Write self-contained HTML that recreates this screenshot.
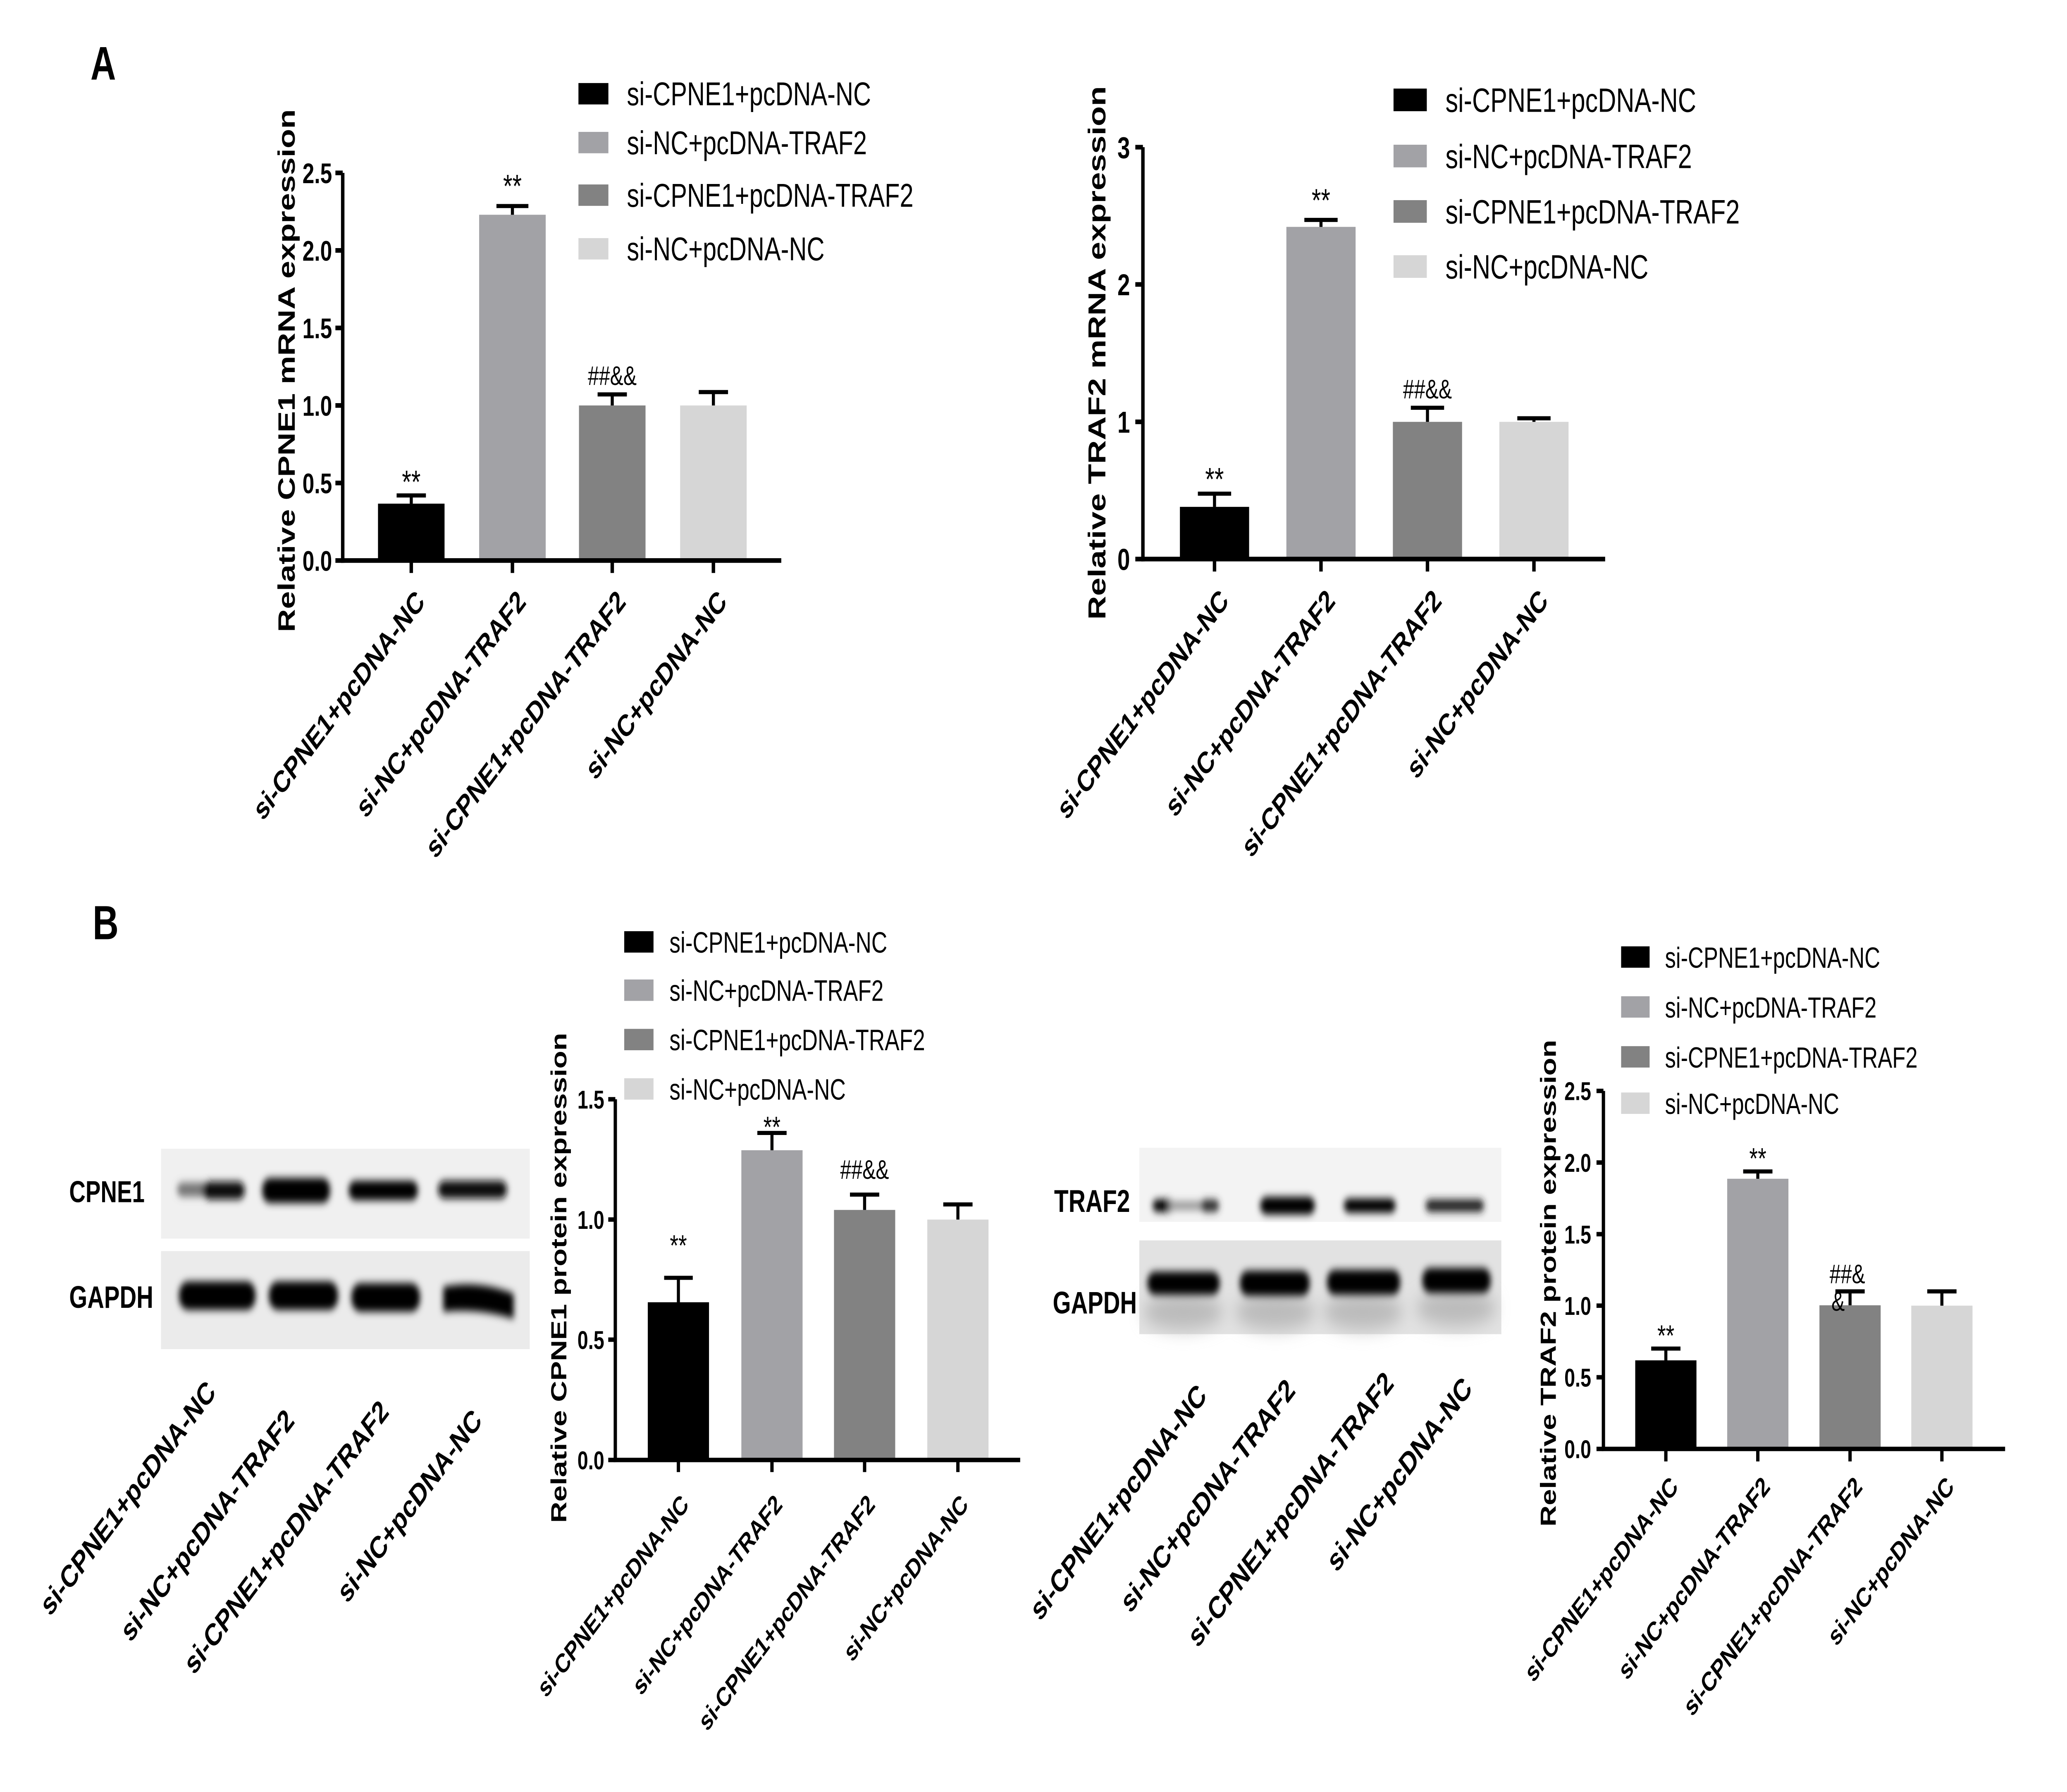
<!DOCTYPE html>
<html><head><meta charset="utf-8">
<style>
html,body{margin:0;padding:0;background:#fff;width:100%;height:100%;overflow:hidden;}
svg{display:block;position:absolute;left:0;top:0;width:100vw;height:100vh;}
text{font-family:"Liberation Sans",Arial,sans-serif;fill:#000;}
.b{font-weight:bold;}
</style></head>
<body>
<svg xmlns="http://www.w3.org/2000/svg" viewBox="0 0 1553 1005.5" preserveAspectRatio="none">
<defs>
<filter id="bl" x="-20%" y="-100%" width="140%" height="300%"><feGaussianBlur stdDeviation="2.2"/></filter>
<filter id="bl2" x="-20%" y="-100%" width="140%" height="300%"><feGaussianBlur stdDeviation="5"/></filter>
</defs>
<rect width="1553" height="1005.5" fill="#fff"/>

<text class="b" x="68" y="44.7" font-size="26.5">A</text>
<text class="b" x="69.6" y="527" font-size="27">B</text>

<!-- A LEFT -->
<g>
<rect x="434.6" y="46.6" width="22.5" height="12" fill="#000"/>
<rect x="434.6" y="74" width="22.5" height="12" fill="#a2a2a6"/>
<rect x="434.6" y="103.5" width="22.5" height="12" fill="#828282"/>
<rect x="434.6" y="133.6" width="22.5" height="12" fill="#d6d6d6"/>
<g font-size="18.5">
<text x="471" y="59">si-CPNE1+pcDNA-NC</text>
<text x="471" y="86.5">si-NC+pcDNA-TRAF2</text>
<text x="471" y="116">si-CPNE1+pcDNA-TRAF2</text>
<text x="471" y="146">si-NC+pcDNA-NC</text>
</g>
<rect x="284" y="282.6" width="50" height="31.9" fill="#000"/>
<rect x="360" y="120.5" width="50" height="194" fill="#a2a2a6"/>
<rect x="435" y="227.5" width="50" height="87" fill="#828282"/>
<rect x="511" y="227.5" width="50" height="87" fill="#d6d6d6"/>
<g stroke="#000" stroke-width="2.3" fill="none">
<path d="M309 282.6V278M298 278H320"/>
<path d="M385 120.5V115.6M373 115.6H397"/>
<path d="M460 227.5V221.3M449 221.3H471"/>
<path d="M536 227.5V220M525 220H547"/>
</g>
<g stroke="#000" stroke-width="2.6" fill="none">
<path d="M257.5 97V315.8"/>
<path d="M256.2 314.5H587"/>
<path d="M252 97H257.5M252 140.5H257.5M252 184H257.5M252 227.5H257.5M252 271H257.5M252 314.5H257.5"/>
<path d="M309 314.5V321.5M385 314.5V321.5M460 314.5V321.5M536 314.5V321.5"/>
</g>
<g class="b" font-size="16" text-anchor="end">
<text x="249.5" y="102.8">2.5</text>
<text x="249.5" y="146.3">2.0</text>
<text x="249.5" y="189.8">1.5</text>
<text x="249.5" y="233.3">1.0</text>
<text x="249.5" y="276.8">0.5</text>
<text x="249.5" y="320.3">0.0</text>
</g>
<text class="b" font-size="18" text-anchor="middle" transform="translate(221.5 208) rotate(-90)">Relative CPNE1 mRNA expression</text>
<g font-size="18" text-anchor="middle">
<text x="309" y="276.5">**</text>
<text x="385" y="110.5">**</text>
</g>
<text x="460" y="216" font-size="15" text-anchor="middle">##&amp;&amp;</text>
<g class="b" font-size="17" text-anchor="end">
<text transform="translate(320 338.5) rotate(-45)">si-CPNE1+pcDNA-NC</text>
<text transform="translate(396 338.5) rotate(-45)">si-NC+pcDNA-TRAF2</text>
<text transform="translate(471 338.5) rotate(-45)">si-CPNE1+pcDNA-TRAF2</text>
<text transform="translate(547 338.5) rotate(-45)">si-NC+pcDNA-NC</text>
</g>
</g>

<!-- A RIGHT -->
<g>
<rect x="1047" y="49.7" width="25" height="12.7" fill="#000"/>
<rect x="1047" y="81.2" width="25" height="12.7" fill="#a2a2a6"/>
<rect x="1047" y="112.3" width="25" height="12.7" fill="#828282"/>
<rect x="1047" y="143.2" width="25" height="12.7" fill="#d6d6d6"/>
<g font-size="19">
<text x="1086" y="62.8">si-CPNE1+pcDNA-NC</text>
<text x="1086" y="94.3">si-NC+pcDNA-TRAF2</text>
<text x="1086" y="125.4">si-CPNE1+pcDNA-TRAF2</text>
<text x="1086" y="156.3">si-NC+pcDNA-NC</text>
</g>
<rect x="886.5" y="284.4" width="52" height="29.3" fill="#000"/>
<rect x="966.5" y="127.3" width="52" height="186.4" fill="#a2a2a6"/>
<rect x="1046.5" y="236.7" width="52" height="77" fill="#828282"/>
<rect x="1126.5" y="236.7" width="52" height="77" fill="#d6d6d6"/>
<g stroke="#000" stroke-width="2.3" fill="none">
<path d="M912.5 284.4V277M900 277H925"/>
<path d="M992.5 127.3V123.4M980 123.4H1005"/>
<path d="M1072.5 236.7V228.8M1060 228.8H1085"/>
<path d="M1152.5 236.7V234.7M1140 234.7H1165"/>
</g>
<g stroke="#000" stroke-width="2.6" fill="none">
<path d="M858.7 82.6V315"/>
<path d="M857.4 313.7H1206"/>
<path d="M853 82.6H858.7M853 159.6H858.7M853 236.7H858.7M853 313.7H858.7"/>
<path d="M912.5 313.7V320.7M992.5 313.7V320.7M1072.5 313.7V320.7M1152.5 313.7V320.7"/>
</g>
<g class="b" font-size="17" text-anchor="end">
<text x="849" y="88.7">3</text>
<text x="849" y="165.7">2</text>
<text x="849" y="242.8">1</text>
<text x="849" y="319.8">0</text>
</g>
<text class="b" font-size="18.5" text-anchor="middle" transform="translate(830.5 198) rotate(-90)">Relative TRAF2 mRNA expression</text>
<g font-size="18" text-anchor="middle">
<text x="912.5" y="275">**</text>
<text x="992.5" y="118.5">**</text>
</g>
<text x="1072.5" y="223.5" font-size="15" text-anchor="middle">##&amp;&amp;</text>
<g class="b" font-size="17" text-anchor="end">
<text transform="translate(924 338) rotate(-45)">si-CPNE1+pcDNA-NC</text>
<text transform="translate(1004 338) rotate(-45)">si-NC+pcDNA-TRAF2</text>
<text transform="translate(1084 338) rotate(-45)">si-CPNE1+pcDNA-TRAF2</text>
<text transform="translate(1164 338) rotate(-45)">si-NC+pcDNA-NC</text>
</g>
</g>

<!-- B LEFT BLOT -->
<g>
<rect x="121" y="644.6" width="277" height="50.4" fill="#f0f0f0"/>
<rect x="121" y="702" width="277" height="55" fill="#ebebeb"/>
<g filter="url(#bl)">
<rect x="133" y="663.5" width="24" height="8" rx="4" fill="#777"/>
<rect x="152" y="663" width="32" height="10" rx="5" fill="#111"/>
<rect x="197" y="661" width="51" height="14" rx="6" fill="#000"/>
<rect x="262" y="662.5" width="52" height="11" rx="5" fill="#000"/>
<rect x="329" y="662.5" width="52" height="10" rx="5" fill="#111"/>
</g>
<g filter="url(#bl)">
<rect x="134.5" y="719" width="57.5" height="16" rx="7" fill="#000"/>
<rect x="202" y="719" width="52" height="16" rx="7" fill="#000"/>
<rect x="264" y="720" width="51.6" height="16" rx="7" fill="#000"/>
<path d="M333 722 Q360 718 386 726 L386 740 Q360 734 333 736 Z" fill="#000"/>
</g>
<text class="b" x="52" y="674.5" font-size="17">CPNE1</text>
<text class="b" x="52" y="733.8" font-size="17.5">GAPDH</text>
<g class="b" font-size="17.4" text-anchor="end">
<text transform="translate(163 782) rotate(-45)">si-CPNE1+pcDNA-NC</text>
<text transform="translate(222 798) rotate(-45)">si-NC+pcDNA-TRAF2</text>
<text transform="translate(293 793) rotate(-45)">si-CPNE1+pcDNA-TRAF2</text>
<text transform="translate(363 798) rotate(-45)">si-NC+pcDNA-NC</text>
</g>
</g>

<!-- B1 CHART -->
<g>
<rect x="469" y="522.5" width="22" height="12" fill="#000"/>
<rect x="469" y="549.6" width="22" height="12" fill="#a2a2a6"/>
<rect x="469" y="577.3" width="22" height="12" fill="#828282"/>
<rect x="469" y="605" width="22" height="12" fill="#d6d6d6"/>
<g font-size="16.5">
<text x="503" y="534.5">si-CPNE1+pcDNA-NC</text>
<text x="503" y="561.6">si-NC+pcDNA-TRAF2</text>
<text x="503" y="589.3">si-CPNE1+pcDNA-TRAF2</text>
<text x="503" y="617">si-NC+pcDNA-NC</text>
</g>
<rect x="486.7" y="730.7" width="46" height="88.5" fill="#000"/>
<rect x="557" y="645.4" width="46" height="173.8" fill="#a2a2a6"/>
<rect x="626.6" y="678.9" width="46" height="140.3" fill="#828282"/>
<rect x="696.7" y="684.3" width="46" height="134.9" fill="#d6d6d6"/>
<g stroke="#000" stroke-width="2.3" fill="none">
<path d="M509.7 730.7V717M499 717H520.5"/>
<path d="M580 645.4V635.7M569 635.7H591"/>
<path d="M649.6 678.9V670.3M638.6 670.3H660.6"/>
<path d="M719.7 684.3V675.8M708.7 675.8H730.7"/>
</g>
<g stroke="#000" stroke-width="2.5" fill="none">
<path d="M462.3 616.8V820.4"/>
<path d="M461 819.2H766.5"/>
<path d="M457 616.8H462.3M457 684.3H462.3M457 751.7H462.3M457 819.2H462.3"/>
<path d="M509.7 819.2V826M580 819.2V826M649.6 819.2V826M719.7 819.2V826"/>
</g>
<g class="b" font-size="14.5" text-anchor="end">
<text x="454" y="622">1.5</text>
<text x="454" y="689.5">1.0</text>
<text x="454" y="756.9">0.5</text>
<text x="454" y="824.4">0.0</text>
</g>
<text class="b" font-size="16.5" text-anchor="middle" transform="translate(425.5 717) rotate(-90)">Relative CPNE1 protein expression</text>
<g font-size="16.5" text-anchor="middle">
<text x="509.7" y="704.5">**</text>
<text x="580" y="638">**</text>
</g>
<text x="649.6" y="661.5" font-size="15" text-anchor="middle">##&amp;&amp;</text>
<g class="b" font-size="15" text-anchor="end">
<text transform="translate(518.3 845) rotate(-45)">si-CPNE1+pcDNA-NC</text>
<text transform="translate(588.6 845) rotate(-45)">si-NC+pcDNA-TRAF2</text>
<text transform="translate(658.2 845) rotate(-45)">si-CPNE1+pcDNA-TRAF2</text>
<text transform="translate(728.3 845) rotate(-45)">si-NC+pcDNA-NC</text>
</g>
</g>

<!-- B RIGHT BLOT -->
<g>
<rect x="856" y="644" width="272" height="41.6" fill="#f3f3f3"/>
<rect x="856" y="696" width="272" height="52.6" fill="#e2e2e2"/>
<g filter="url(#bl2)">
<ellipse cx="889" cy="736" rx="30" ry="10" fill="#bbb"/>
<ellipse cx="958" cy="736" rx="30" ry="10" fill="#bbb"/>
<ellipse cx="1024" cy="736" rx="30" ry="10" fill="#bbb"/>
<ellipse cx="1094" cy="734" rx="30" ry="10" fill="#bbb"/>
</g>
<g filter="url(#bl)">
<rect x="866" y="673" width="16" height="7" rx="3.5" fill="#000"/>
<rect x="878" y="674" width="28" height="5" rx="2.5" fill="#999"/>
<rect x="902" y="673" width="14" height="7" rx="3.5" fill="#333"/>
<rect x="946.7" y="671.5" width="41.3" height="10" rx="5" fill="#000"/>
<rect x="1009.6" y="672.5" width="39" height="8" rx="4" fill="#000"/>
<rect x="1071" y="673" width="44" height="7" rx="3.5" fill="#222"/>
</g>
<g filter="url(#bl)">
<rect x="862" y="713.5" width="54.5" height="13" rx="6" fill="#000"/>
<rect x="931.6" y="713" width="52.4" height="14" rx="6" fill="#000"/>
<rect x="997" y="712.5" width="55" height="14" rx="6" fill="#000"/>
<rect x="1068.6" y="711.5" width="51.4" height="14" rx="6" fill="#000"/>
</g>
<text class="b" x="792" y="680" font-size="17.7">TRAF2</text>
<text class="b" x="791" y="737" font-size="17.5">GAPDH</text>
<g class="b" font-size="17.5" text-anchor="end">
<text transform="translate(907.5 784) rotate(-45)">si-CPNE1+pcDNA-NC</text>
<text transform="translate(974 781) rotate(-45)">si-NC+pcDNA-TRAF2</text>
<text transform="translate(1048 777) rotate(-45)">si-CPNE1+pcDNA-TRAF2</text>
<text transform="translate(1107 780) rotate(-45)">si-NC+pcDNA-NC</text>
</g>
</g>

<!-- B2 CHART -->
<g>
<rect x="1218" y="531" width="21.4" height="12" fill="#000"/>
<rect x="1218" y="559" width="21.4" height="12" fill="#a2a2a6"/>
<rect x="1218" y="587" width="21.4" height="12" fill="#828282"/>
<rect x="1218" y="613" width="21.4" height="12" fill="#d6d6d6"/>
<g font-size="16.3">
<text x="1251" y="543">si-CPNE1+pcDNA-NC</text>
<text x="1251" y="571">si-NC+pcDNA-TRAF2</text>
<text x="1251" y="599">si-CPNE1+pcDNA-TRAF2</text>
<text x="1251" y="625">si-NC+pcDNA-NC</text>
</g>
<rect x="1228.6" y="763.3" width="46" height="49.7" fill="#000"/>
<rect x="1297.7" y="661.4" width="46" height="151.6" fill="#a2a2a6"/>
<rect x="1367" y="732.4" width="46" height="80.6" fill="#828282"/>
<rect x="1436" y="732.6" width="46" height="80.4" fill="#d6d6d6"/>
<g stroke="#000" stroke-width="2.3" fill="none">
<path d="M1251.6 763.3V756.7M1240.6 756.7H1262.6"/>
<path d="M1320.7 661.4V657.3M1309.7 657.3H1331.7"/>
<path d="M1390 732.4V724.6M1379 724.6H1401"/>
<path d="M1459 732.6V724.6M1448 724.6H1470"/>
</g>
<g stroke="#000" stroke-width="2.5" fill="none">
<path d="M1204.7 612.1V814.2"/>
<path d="M1203.4 813H1506.5"/>
<path d="M1199.5 612.1H1204.7M1199.5 652.3H1204.7M1199.5 692.5H1204.7M1199.5 732.6H1204.7M1199.5 772.8H1204.7M1199.5 813H1204.7"/>
<path d="M1251.6 813V820M1320.7 813V820M1390 813V820M1459 813V820"/>
</g>
<g class="b" font-size="14.5" text-anchor="end">
<text x="1195.5" y="617.3">2.5</text>
<text x="1195.5" y="657.5">2.0</text>
<text x="1195.5" y="697.7">1.5</text>
<text x="1195.5" y="737.8">1.0</text>
<text x="1195.5" y="778">0.5</text>
<text x="1195.5" y="818.2">0.0</text>
</g>
<text class="b" font-size="16.5" text-anchor="middle" transform="translate(1169 720) rotate(-90)">Relative TRAF2 protein expression</text>
<g font-size="16.5" text-anchor="middle">
<text x="1251.6" y="755">**</text>
<text x="1320.7" y="655.7">**</text>
</g>
<text x="1388" y="720" font-size="15" text-anchor="middle">##&amp;</text>
<text x="1381" y="735.5" font-size="15" text-anchor="middle">&amp;</text>
<g class="b" font-size="15.2" text-anchor="end">
<text transform="translate(1261.6 835) rotate(-45)">si-CPNE1+pcDNA-NC</text>
<text transform="translate(1330.7 835) rotate(-45)">si-NC+pcDNA-TRAF2</text>
<text transform="translate(1400 835) rotate(-45)">si-CPNE1+pcDNA-TRAF2</text>
<text transform="translate(1469 835) rotate(-45)">si-NC+pcDNA-NC</text>
</g>
</g>
</svg>
</body></html>
